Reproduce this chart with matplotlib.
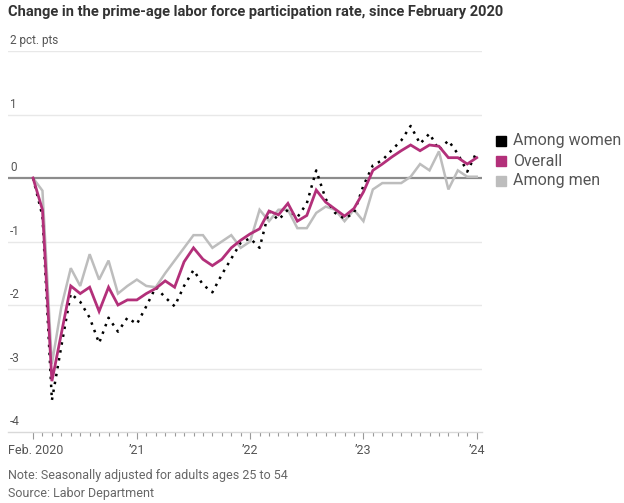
import matplotlib
matplotlib.use("Agg")
import matplotlib.pyplot as plt
import matplotlib.transforms as mtransforms
import numpy as np

# monthly, Feb 2020 .. Jan 2024, change in pct. pts since Feb 2020
overall = [0, -0.5, -3.2, -2.45, -1.7, -1.82, -1.72, -2.1, -1.72, -2.0, -1.92, -1.92,
           -1.82, -1.74, -1.62, -1.72, -1.32, -1.1, -1.28, -1.38, -1.28, -1.1, -0.98, -0.88,
           -0.8, -0.52, -0.58, -0.4, -0.68, -0.59, -0.19, -0.38, -0.49, -0.6, -0.48, -0.22,
           0.12, 0.22, 0.33, 0.43, 0.52, 0.43, 0.52, 0.5, 0.32, 0.32, 0.22, 0.32]
men = [0, -0.2, -2.93, -2.03, -1.42, -1.7, -1.2, -1.6, -1.3, -1.82, -1.7, -1.6,
       -1.7, -1.72, -1.5, -1.3, -1.1, -0.9, -0.9, -1.1, -1.0, -0.9, -1.1, -1.0,
       -0.5, -0.68, -0.5, -0.5, -0.79, -0.79, -0.55, -0.45, -0.5, -0.68, -0.5, -0.68,
       -0.18, -0.08, -0.08, -0.08, 0.02, 0.22, 0.12, 0.42, -0.18, 0.12, 0.02, 0.02]
women = [0, -0.6, -3.5, -2.65, -1.82, -1.95, -2.2, -2.6, -2.2, -2.42, -2.2, -2.3,
         -2.02, -1.72, -1.88, -2.02, -1.7, -1.45, -1.68, -1.8, -1.52, -1.27, -1.02, -0.95,
         -1.1, -0.52, -0.66, -0.5, -0.62, -0.4, 0.12, -0.33, -0.55, -0.64, -0.55, -0.12,
         0.2, 0.28, 0.44, 0.59, 0.82, 0.54, 0.7, 0.44, 0.59, 0.38, 0.1, 0.41]

y_ticks = [2, 1, 0, -1, -2, -3, -4]
y_labels = ["2 pct. pts", "1", "0", "-1", "-2", "-3", "-4"]
x_tick_months = [0, 11, 23, 35, 47]
x_tick_labels = ["Feb. 2020", "\u201921", "\u201922", "\u201923", "\u201924"]

PINK = "#b3307a"
GRAY = "#bdbdbd"
TXT = "#555555"
FONT = ["Roboto", "DejaVu Sans"]

fig = plt.figure(figsize=(6.24, 5.03), dpi=100)
ax = fig.add_axes([8 / 624, 1 - 432 / 503, 474 / 624, 381 / 503])

months = np.arange(len(overall))
ax.set_xlim(-2.65, 47.56)
ax.set_ylim(-4, 2)

for v in y_ticks:
    if v == 0:
        ax.axhline(v, color="#8c8c8c", lw=1.6, zorder=1)
    elif v != -4:
        ax.axhline(v, color="#e8e8e8", lw=1.0, zorder=0)

ax.plot(months, men, color=GRAY, lw=1.8, zorder=2, solid_joinstyle="miter")
ax.plot(months, women, color="black", lw=1.8, ls=(0, (1, 2.2)), zorder=3)
ax.plot(months, overall, color=PINK, lw=2.0, zorder=4, solid_joinstyle="miter")

# y labels sit above the gridlines at the left
trans = mtransforms.blended_transform_factory(ax.transAxes, ax.transData)
for v, lab in zip(y_ticks, y_labels):
    ax.text(0.004, v + 0.06, lab, transform=trans, fontsize=8.5, color=TXT,
            family=FONT, ha="left", va="bottom")

for s in ["left", "right", "top"]:
    ax.spines[s].set_visible(False)
ax.spines["bottom"].set_color("#d9d9d9")
ax.spines["bottom"].set_linewidth(1.0)
ax.set_yticks([])
ax.set_xticks(months, minor=True)
ax.set_xticks(x_tick_months)
ax.set_xticklabels([])
ax.tick_params(axis="x", which="minor", length=3, width=0.8, color="#999999")
ax.tick_params(axis="x", which="major", length=5, width=0.8, color="#999999")

for m, lab in zip(x_tick_months, x_tick_labels):
    if m == 0:
        fig.text(8 / 624, 1 - 451 / 503, lab, fontsize=9, color=TXT, family=FONT,
                 ha="left", va="center")
    else:
        ax.text(m, -4.29, lab, fontsize=9, color=TXT, family=FONT,
                ha="center", va="center", transform=ax.transData, clip_on=False)

# legend
legend_items = [("Among women", "black"), ("Overall", PINK), ("Among men", GRAY)]
for k, (lab, col) in enumerate(legend_items):
    yy = 1 - (141 + 20 * k) / 503
    fig.patches.append(plt.Rectangle((496 / 624, yy - 5 / 503), 10 / 624, 10 / 503,
                                     transform=fig.transFigure, color=col, figure=fig))
    fig.text(513 / 624, yy, lab, fontsize=11.5, color=TXT, family=FONT,
             ha="left", va="center")

fig.text(8 / 624, 1 - 12 / 503,
         "Change in the prime-age labor force participation rate, since February 2020",
         fontsize=10.5, fontweight="bold", color="#333333", family=FONT,
         ha="left", va="center")
fig.text(8 / 624, 1 - 475 / 503, "Note: Seasonally adjusted for adults ages 25 to 54",
         fontsize=9, color="#666666", family=FONT, ha="left", va="center")
fig.text(8 / 624, 1 - 493 / 503, "Source: Labor Department",
         fontsize=9, color="#666666", family=FONT, ha="left", va="center")

fig.savefig("out.png", dpi=100)
